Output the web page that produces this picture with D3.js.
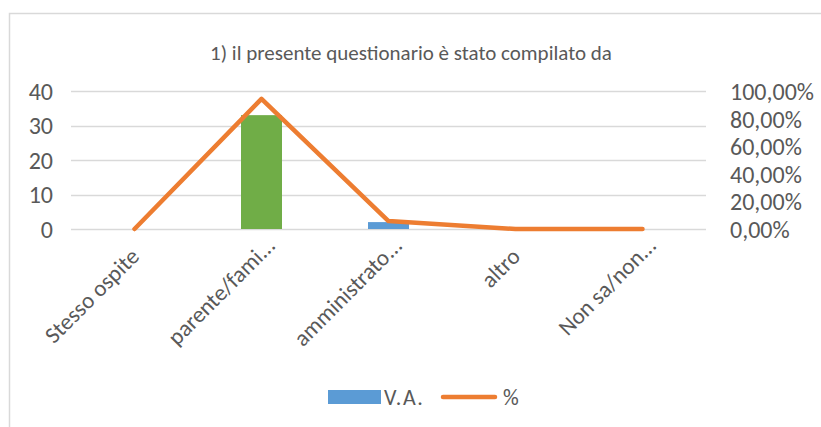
<!DOCTYPE html>
<html lang="it">
<head>
    <meta charset="UTF-8">
    <title>1) il presente questionario è stato compilato da</title>
    <script src="https://cdnjs.cloudflare.com/ajax/libs/d3/7.8.5/d3.min.js" charset="utf-8"></script>
    <style>
        html, body {
            margin: 0;
            padding: 0;
            background: #fff;
        }
        svg text {
            font-family: Carlito, Calibri, "Liberation Sans", sans-serif;
            fill: #595959;
        }
    </style>
</head>
<body>
<svg width="821" height="427"></svg>
<script>
    // data
    var categories = ["Stesso ospite", "parente/fami...", "amministrato...", "altro", "Non sa/non..."];
    var va = [0, 33, 2, 0, 0];
    var pct = [0, 0.9429, 0.0571, 0, 0];
    var barColors = ["#5B9BD5", "#70AD47", "#5B9BD5", "#5B9BD5", "#5B9BD5"];
    var leftTicks = [0, 10, 20, 30, 40];
    var rightTicks = [0, 0.2, 0.4, 0.6, 0.8, 1];
    var title = "1) il presente questionario è stato compilato da";

    var svg = d3.select("svg");

    // chart border (runs off the right and bottom)
    svg.append("rect")
            .attr("x", 9.5)
            .attr("y", 13.5)
            .attr("width", 900)
            .attr("height", 500)
            .attr("fill", "#fff")
            .attr("stroke", "#d9d9d9")
            .attr("stroke-width", 1.5);

    var plot = {left: 71, right: 706, top: 91, bottom: 229};

    var x = d3.scaleBand()
            .domain(categories)
            .range([plot.left, plot.right]);

    var y = d3.scaleLinear()
            .domain([0, 40])
            .range([plot.bottom, plot.top]);

    var y2 = d3.scaleLinear()
            .domain([0, 1])
            .range([plot.bottom, plot.top]);

    // title
    svg.append("text")
            .attr("x", 411)
            .attr("y", 60)
            .attr("text-anchor", "middle")
            .style("font-size", "21px")
            .text(title);

    // gridlines
    svg.append("g")
            .selectAll("line")
            .data(leftTicks)
            .enter()
            .append("line")
            .attr("x1", plot.left)
            .attr("x2", plot.right)
            .attr("y1", function (d) { return Math.round(y(d)) + 0.5; })
            .attr("y2", function (d) { return Math.round(y(d)) + 0.5; })
            .attr("stroke", "#d9d9d9")
            .attr("stroke-width", function (d) { return d === 0 ? 1.6 : 1.3; });

    // left axis
    var leftAxis = svg.append("g")
            .attr("transform", "translate(" + (plot.left - 18) + ",0)")
            .call(d3.axisLeft(y).tickValues(leftTicks).tickSize(0).tickPadding(0));
    leftAxis.select(".domain").remove();
    leftAxis.selectAll("text")
            .style("font-size", "24px")
            .attr("dy", "0.35em");

    // right axis
    var rightAxis = svg.append("g")
            .attr("transform", "translate(" + (plot.right + 24) + ",0)")
            .call(d3.axisRight(y2).tickValues(rightTicks).tickSize(0).tickPadding(0)
                    .tickFormat(function (d) { return d3.format(".2f")(d * 100).replace(".", ",") + "%"; }));
    rightAxis.select(".domain").remove();
    rightAxis.selectAll("text")
            .style("font-size", "24px")
            .attr("dy", "0.35em");

    // bars
    var barWidth = 41;
    svg.append("g")
            .selectAll("rect")
            .data(va)
            .enter()
            .append("rect")
            .attr("x", function (d, i) { return x(categories[i]) + x.bandwidth() / 2 - barWidth / 2; })
            .attr("y", function (d) { return y(d); })
            .attr("width", barWidth)
            .attr("height", function (d) { return y(0) - y(d); })
            .attr("fill", function (d, i) { return barColors[i]; });

    // line for %
    var line = d3.line()
            .x(function (d, i) { return x(categories[i]) + x.bandwidth() / 2; })
            .y(function (d) { return y2(d); });

    svg.append("path")
            .datum(pct)
            .attr("d", line)
            .attr("fill", "none")
            .attr("stroke", "#ED7D31")
            .attr("stroke-width", 4.5)
            .attr("stroke-linejoin", "round")
            .attr("stroke-linecap", "round");

    // category labels, rotated
    svg.append("g")
            .selectAll("text")
            .data(categories)
            .enter()
            .append("text")
            .attr("text-anchor", "end")
            .style("font-size", "23px")
            .attr("transform", function (d) {
                var cx = x(d) + x.bandwidth() / 2;
                var trunc = d.slice(-3) === "...";
                var ax = cx + (trunc ? 15 : 6);
                var ay = trunc ? 247 : 258;
                return "translate(" + ax + "," + ay + ") rotate(-45)";
            })
            .text(function (d) { return d; });

    // legend
    var legend = svg.append("g");
    legend.append("rect")
            .attr("x", 328)
            .attr("y", 390)
            .attr("width", 53)
            .attr("height", 14)
            .attr("fill", "#5B9BD5");
    legend.append("text")
            .attr("x", 384)
            .attr("y", 405)
            .style("font-size", "22px")
            .style("letter-spacing", "1.5px")
            .text("V.A.");
    legend.append("line")
            .attr("x1", 443)
            .attr("x2", 495)
            .attr("y1", 397)
            .attr("y2", 397)
            .attr("stroke", "#ED7D31")
            .attr("stroke-width", 4.5)
            .attr("stroke-linecap", "round");
    legend.append("text")
            .attr("x", 503)
            .attr("y", 405)
            .style("font-size", "22px")
            .text("%");
</script>
</body>
</html>
